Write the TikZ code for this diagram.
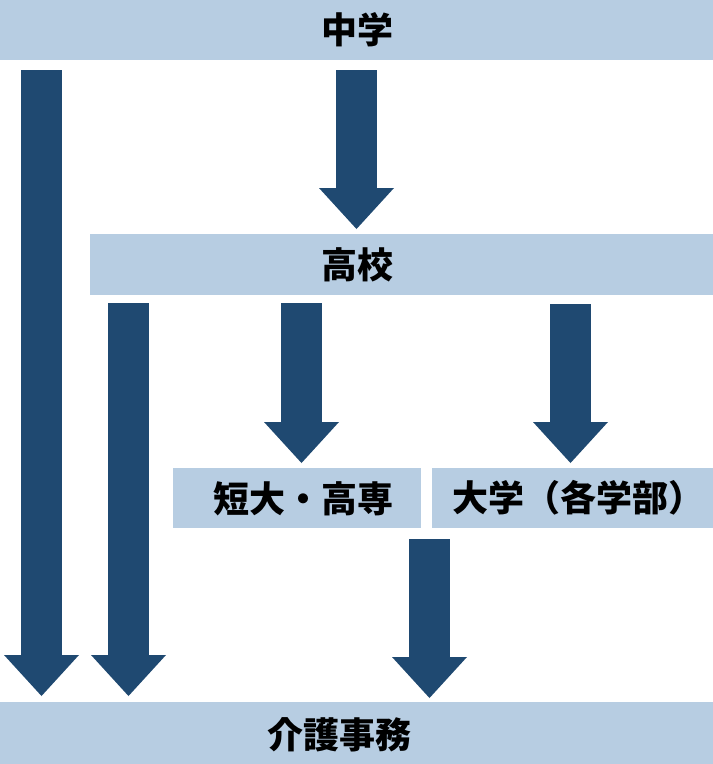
\documentclass[tikz,border=0pt]{standalone}
\usepackage{fontspec}
\newfontfamily\jp{Noto Sans CJK JP}
\usetikzlibrary{arrows.meta}
\definecolor{barblue}{RGB}{183,205,226}
\definecolor{arrowblue}{RGB}{31,73,113}
\begin{document}
\begin{tikzpicture}[x=1pt,y=-1pt,
  bar/.style={fill=barblue,draw=none,rectangle,inner sep=0pt,anchor=north west},
  lbl/.style={font=\jp\bfseries\fontsize{36pt}{42pt}\selectfont,inner sep=0pt,text=black},
  big/.style={draw=arrowblue,line width=41pt,
    -{Triangle[width=75pt,length=41pt,line width=0pt,fill=arrowblue]}}]
\useasboundingbox (0,0) rectangle (713,764);
% bars
\node[bar,minimum width=713pt,minimum height=60pt] (top) at (0,0) {};
\node[bar,minimum width=623pt,minimum height=61pt] (hs) at (90,234) {};
\node[bar,minimum width=248pt,minimum height=60pt] (tandai) at (173,468) {};
\node[bar,minimum width=281pt,minimum height=60pt] (daigaku) at (432,468) {};
\node[bar,minimum width=713pt,minimum height=62pt] (bottom) at (0,702) {};
% labels
\node[lbl] (ttop) at (357,30) {中学};
\node[lbl] (ths) at (357,265) {高校};
\node[lbl] (ttandai) at (303,499) {短大・高専};
\node[lbl] (tdaigaku) at (578,498) {大学（各学部）};
\node[lbl] (tbottom) at (339,735) {介護事務};
% arrows
\draw[big] ([xshift=41.5pt,yshift=-10pt]top.south west) -- ([xshift=41.5pt,yshift=6pt]bottom.north west);
\draw[big] ([xshift=356.5pt,yshift=-10pt]top.south west) -- ([xshift=266.5pt,yshift=5pt]hs.north west);
\draw[big] ([xshift=38.5pt,yshift=-8pt]hs.south west) -- ([xshift=128.5pt,yshift=6pt]bottom.north west);
\draw[big] ([xshift=211.5pt,yshift=-8pt]hs.south west) -- ([xshift=128.5pt,yshift=5pt]tandai.north west);
\draw[big] ([xshift=480.5pt,yshift=-9pt]hs.south west) -- ([xshift=138.5pt,yshift=5pt]daigaku.north west);
\draw[big] ([xshift=256.5pt,yshift=-11pt]tandai.south west) -- ([xshift=429.5pt,yshift=4pt]bottom.north west);
\end{tikzpicture}
\end{document}
